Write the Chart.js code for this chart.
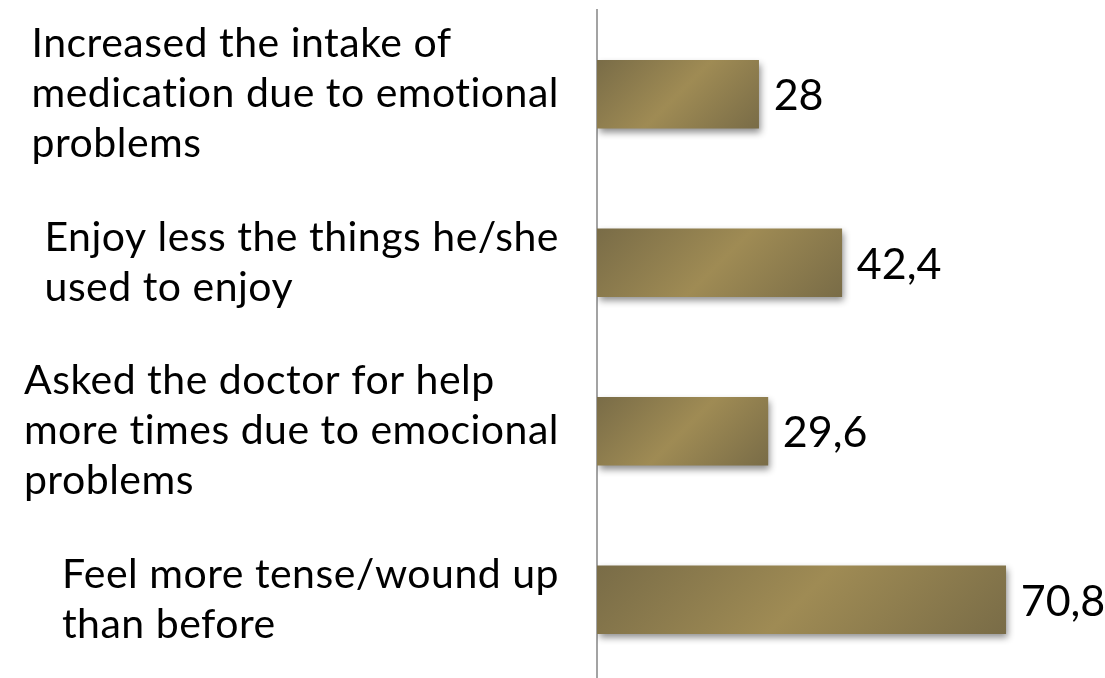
<!DOCTYPE html>
<html>
<head>
<meta charset="utf-8">
<script src="https://cdn.jsdelivr.net/npm/chart.js@4/dist/chart.umd.min.js"></script>
<style>
  html, body { margin: 0; padding: 0; background: #fff; overflow: hidden; }
  #wrap { width: 1105px; height: 684px; position: relative; }
</style>
</head>
<body>
<div id="wrap"><canvas id="barChart"></canvas></div>
<script>
// ===== data =====
const categories = [
  ["Increased the intake of", "medication due to emotional", "problems"],
  ["Enjoy less the things he/she", "used to enjoy"],
  ["Asked the doctor for help", "more times due to emocional", "problems"],
  ["Feel more tense/wound up", "than before"]
];
const values = [28, 42.4, 29.6, 70.8];
const valueLabels = ["28", "42,4", "29,6", "70,8"];

const FONT = "Lato, 'Open Sans', sans-serif";
const DARK = "#796c47";
const LIGHT = "#9f8b54";

// gradient 45° per bar
const barFill = (c) => {
  const chart = c.chart;
  if (!chart.chartArea) return LIGHT;
  const xs = chart.scales.x, ys = chart.scales.y;
  const x0 = xs.getPixelForValue(0);
  const x1 = xs.getPixelForValue(values[c.dataIndex]);
  const yc = ys.getPixelForValue(c.dataIndex);
  const top = yc - 34, bot = yc + 34;
  const d = ((x1 - x0) + (bot - top)) / 2;
  const g = chart.ctx.createLinearGradient(x0, top, x0 + d, top + d);
  g.addColorStop(0, DARK);
  g.addColorStop(0.5, LIGHT);
  g.addColorStop(1, DARK);
  return g;
};

// shadow under bars
const shadowPlugin = {
  id: "shadow",
  beforeDatasetsDraw(chart) {
    const ctx = chart.ctx;
    ctx.save();
    ctx.shadowColor = "rgba(0,0,0,0.45)";
    ctx.shadowBlur = 7;
    ctx.shadowOffsetX = 2;
    ctx.shadowOffsetY = 4;
  },
  afterDatasetsDraw(chart) {
    chart.ctx.restore();
  }
};

// category labels (left-aligned block, right edge near the axis) + values
const labelPlugin = {
  id: "labels",
  afterDraw(chart) {
    const ctx = chart.ctx;
    const xs = chart.scales.x, ys = chart.scales.y;
    ctx.save();
    ctx.fillStyle = "#000";
    ctx.textAlign = "left";
    ctx.textBaseline = "alphabetic";

    // letter spacing so the widest line matches the reference width
    ctx.font = "41px " + FONT;
    ctx.letterSpacing = "0px";
    const refLine = "medication due to emotional";
    const w0 = ctx.measureText(refLine).width;
    const ls = Math.max(0.3, (529 - w0) / refLine.length);
    ctx.letterSpacing = ls.toFixed(2) + "px";
    const lineH = 50;
    const rightEdge = 559;

    categories.forEach((lines, i) => {
      const yc = ys.getPixelForValue(i);
      const w = Math.max(...lines.map(l => ctx.measureText(l).width));
      const x = rightEdge - w;
      const first = yc - (lines.length - 1) * lineH / 2 + 13;
      lines.forEach((l, j) => ctx.fillText(l, x, first + j * lineH));
    });

    // values
    ctx.letterSpacing = "0px";
    ctx.font = "43px " + FONT;
    values.forEach((v, i) => {
      const x = xs.getPixelForValue(v) + 15;
      const y = ys.getPixelForValue(i) + 16;
      ctx.fillText(valueLabels[i], x, y);
    });
    ctx.restore();
  }
};

new Chart(document.getElementById("barChart"), {
  type: "bar",
  data: {
    labels: categories.map(l => l.join(" ")),
    datasets: [{
      data: values,
      backgroundColor: barFill,
      borderWidth: 0,
      barThickness: 68
    }]
  },
  options: {
    indexAxis: "y",
    responsive: true,
    maintainAspectRatio: false,
    animation: false,
    events: [],
    layout: { padding: { left: 597, top: 10, right: 0, bottom: 0 } },
    plugins: { legend: { display: false }, tooltip: { enabled: false } },
    scales: {
      x: { display: false, min: 0, max: 88 },
      y: {
        afterFit: (s) => { s.width = 0; },
        ticks: { display: false },
        grid: { display: false, drawTicks: false },
        border: { display: true, color: "#a3a3a3", width: 2 }
      }
    }
  },
  plugins: [shadowPlugin, labelPlugin]
});
</script>
</body>
</html>
